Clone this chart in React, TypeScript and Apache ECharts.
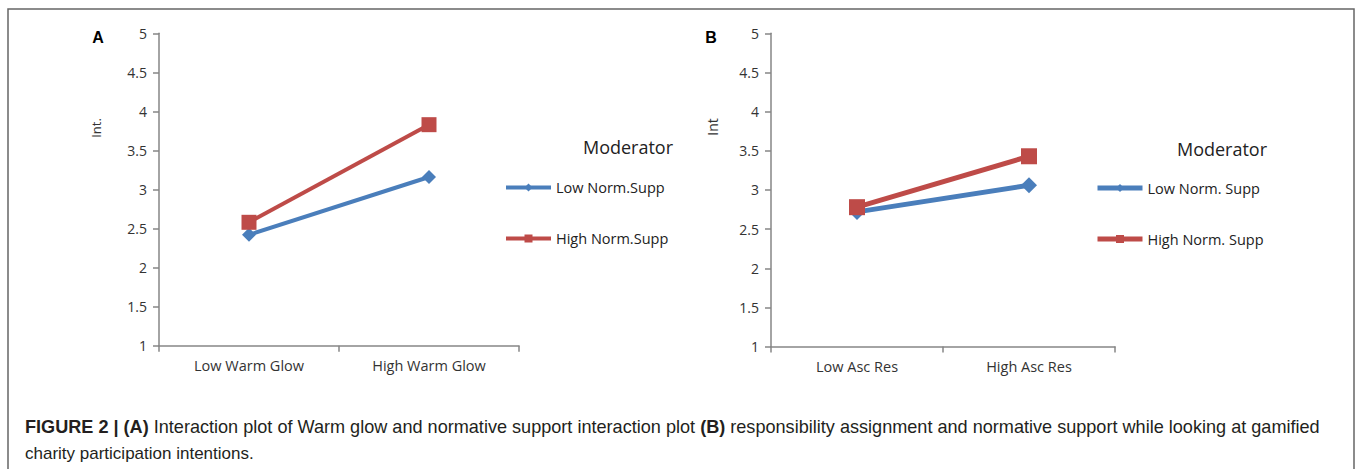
import React, { useEffect, useRef } from "react";
import * as echarts from "echarts";

const categoriesA = ["Low Warm Glow", "High Warm Glow"];
const lowNormA = [2.42, 3.16];
const highNormA = [2.58, 3.83];
const seriesNamesA = ["Low Norm.Supp", "High Norm.Supp"];

const categoriesB = ["Low Asc Res", "High Asc Res"];
const lowNormB = [2.72, 3.06];
const highNormB = [2.78, 3.43];
const seriesNamesB = ["Low Norm. Supp", "High Norm. Supp"];

const yMin = 1;
const yMax = 5;
const yStep = 0.5;

const captionLine1 =
  "{b|FIGURE 2 | (A)} Interaction plot of Warm glow and normative support interaction plot {b|(B)} responsibility assignment and normative support while looking at gamified";
const captionLine2 = "charity participation intentions.";

const BLUE = "#4A7EBB";
const RED = "#BE4B48";
const AXIS = "#868686";
const TXT = "#333333";
const FONT = "Open Sans";

function xAxisCfg(gridIndex: number, data: string[]) {
  return {
    type: "category",
    gridIndex,
    data,
    boundaryGap: true,
    axisLine: { show: true, lineStyle: { color: AXIS, width: 1.5 } },
    axisTick: { show: true, length: 6, lineStyle: { color: AXIS, width: 1.5 } },
    axisLabel: { margin: 12, fontSize: 14.5, color: TXT, fontFamily: FONT },
    splitLine: { show: false },
  };
}

function yAxisCfg(gridIndex: number) {
  return {
    type: "value",
    gridIndex,
    min: yMin,
    max: yMax,
    interval: yStep,
    axisLine: { show: true, lineStyle: { color: AXIS, width: 1.5 } },
    axisTick: { show: true, length: 6, lineStyle: { color: AXIS, width: 1.5 } },
    axisLabel: { margin: 12, fontSize: 14, color: TXT, fontFamily: FONT },
    splitLine: { show: false },
  };
}

function lineSeries(
  name: string,
  data: number[],
  idx: number,
  color: string,
  symbol: string,
  size: number,
  width: number
) {
  return {
    type: "line",
    name,
    data,
    xAxisIndex: idx,
    yAxisIndex: idx,
    symbol,
    symbolSize: size,
    color,
    itemStyle: { color },
    lineStyle: { color, width },
    z: symbol === "rect" ? 3 : 2,
  };
}

function legendCfg(data: string[], left: number, top: number, lw: number) {
  return {
    data,
    orient: "vertical",
    left,
    top,
    padding: 0,
    itemWidth: 45,
    itemHeight: 10,
    itemGap: 36,
    selectedMode: false,
    lineStyle: { width: lw },
    textStyle: { fontSize: 14.5, color: "#222", fontFamily: FONT },
  };
}

export default function App() {
  const ref = useRef<HTMLDivElement>(null);
  useEffect(() => {
    if (!ref.current) return;
    const chart = echarts.init(ref.current, undefined, { renderer: "svg" });
    chart.setOption({
      animation: false,
      backgroundColor: "#ffffff",
      grid: [
        { left: 159, top: 33.3, width: 360, height: 312.4 },
        { left: 771, top: 33.3, width: 344, height: 313.3 },
      ],
      xAxis: [xAxisCfg(0, categoriesA), xAxisCfg(1, categoriesB)],
      yAxis: [yAxisCfg(0), yAxisCfg(1)],
      legend: [
        legendCfg(seriesNamesA, 504, 180, 4),
        legendCfg(seriesNamesB, 1095, 180.5, 5),
      ],
      series: [
        lineSeries(seriesNamesA[0], lowNormA, 0, BLUE, "diamond", 14, 4),
        lineSeries(seriesNamesA[1], highNormA, 0, RED, "rect", 15, 4),
        lineSeries(seriesNamesB[0], lowNormB, 1, BLUE, "diamond", 16, 5),
        lineSeries(seriesNamesB[1], highNormB, 1, RED, "rect", 16, 5),
      ],
      graphic: [
        {
          type: "rect",
          shape: { x: 8, y: 9, width: 1346, height: 480 },
          style: { fill: "none", stroke: "#666", lineWidth: 1.5 },
          silent: true,
        },
        {
          type: "text",
          x: 98,
          y: 37,
          style: {
            text: "A",
            font: "bold 16px 'Liberation Sans'",
            fill: "#000",
            textAlign: "center",
            textVerticalAlign: "middle",
          },
        },
        {
          type: "text",
          x: 711,
          y: 37,
          style: {
            text: "B",
            font: "bold 16px 'Liberation Sans'",
            fill: "#000",
            textAlign: "center",
            textVerticalAlign: "middle",
          },
        },
        {
          type: "text",
          x: 96,
          y: 128,
          rotation: Math.PI / 2,
          style: {
            text: "Int.",
            font: "13px 'Open Sans'",
            fill: TXT,
            textAlign: "center",
            textVerticalAlign: "middle",
          },
        },
        {
          type: "text",
          x: 712,
          y: 127,
          rotation: Math.PI / 2,
          style: {
            text: "Int",
            font: "14px 'Open Sans'",
            fill: TXT,
            textAlign: "center",
            textVerticalAlign: "middle",
          },
        },
        {
          type: "text",
          x: 628,
          y: 147,
          style: {
            text: "Moderator",
            font: "18px 'Open Sans'",
            fill: "#222",
            textAlign: "center",
            textVerticalAlign: "middle",
          },
        },
        {
          type: "text",
          x: 1222,
          y: 149,
          style: {
            text: "Moderator",
            font: "18px 'Open Sans'",
            fill: "#222",
            textAlign: "center",
            textVerticalAlign: "middle",
          },
        },
        {
          type: "text",
          x: 25,
          y: 427,
          style: {
            text: captionLine1,
            font: "18.1px 'Liberation Sans'",
            fill: "#231f20",
            textVerticalAlign: "middle",
            rich: {
              b: { fontWeight: "bold", fontSize: 18.1, fontFamily: "Liberation Sans", fill: "#231f20" },
            },
          },
        },
        {
          type: "text",
          x: 25,
          y: 453,
          style: {
            text: captionLine2,
            font: "17px 'Liberation Sans'",
            fill: "#231f20",
            textVerticalAlign: "middle",
          },
        },
      ],
    });
    return () => chart.dispose();
  }, []);
  return (
    <div
      ref={ref}
      style={{ position: "absolute", left: 0, top: 0, width: 1358, height: 469 }}
    />
  );
}
